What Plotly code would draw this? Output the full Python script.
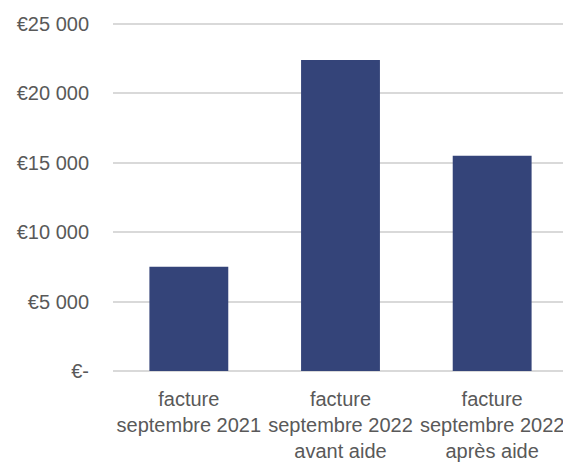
import plotly.graph_objects as go

categories = ["facture<br>septembre 2021", "facture<br>septembre 2022<br>avant aide", "facture<br>septembre 2022<br>après aide"]
values = [7500, 22400, 15500]
tick_vals = [0, 5000, 10000, 15000, 20000, 25000]
tick_text = ["€-", "€5 000", "€10 000", "€15 000", "€20 000", "€25 000"]

fig = go.Figure(go.Bar(x=categories, y=values, marker=dict(color="#344479", line=dict(width=0)), width=0.52))

font = dict(family="Liberation Sans, Arial, sans-serif", size=20, color="#595959")
# the page body has an 8px default margin; margins compensate for it
fig.update_layout(
    width=571, height=463,
    margin=dict(l=105, r=11, t=12.5, b=100.3),
    paper_bgcolor="white", plot_bgcolor="white",
    font=font, showlegend=False, bargap=0.48,
)
fig.update_yaxes(range=[0, 25200], tickvals=tick_vals, ticktext=tick_text,
                 showgrid=True, gridcolor="#d9d9d9", gridwidth=1.5,
                 zeroline=True, zerolinecolor="#d9d9d9", zerolinewidth=1.5,
                 showline=False, ticks="", ticklabelstandoff=23, tickfont=font,
                 automargin=False)
fig.update_xaxes(showline=False, ticks="", ticklabelstandoff=14, tickfont=font, tickangle=0,
                 automargin=False)

fig.write_html("out.html")
